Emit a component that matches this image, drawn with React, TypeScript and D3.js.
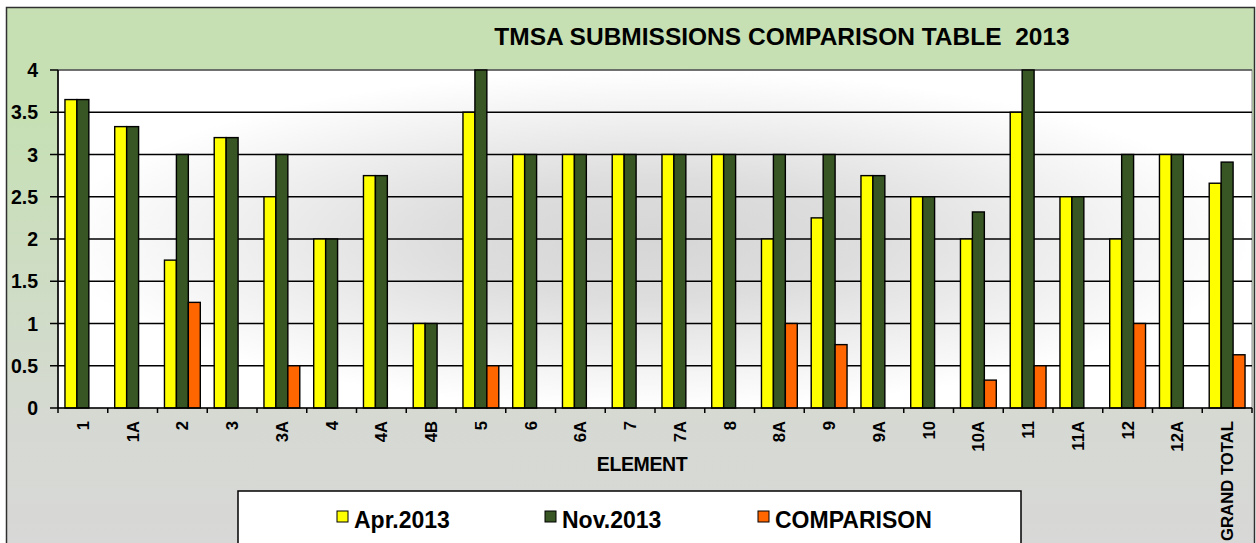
import React from "react"
import * as d3 from "d3"

// TMSA submissions per element
const categories = [
  "1", "1A", "2", "3", "3A", "4", "4A", "4B", "5", "6", "6A", "7", "7A",
  "8", "8A", "9", "9A", "10", "10A", "11", "11A", "12", "12A", "GRAND TOTAL"
]
const apr2013 = [3.65, 3.33, 1.75, 3.2, 2.5, 2, 2.75, 1, 3.5, 3, 3, 3, 3, 3, 2, 2.25, 2.75, 2.5, 2, 3.5, 2.5, 2, 3, 2.66]
const nov2013 = [3.65, 3.33, 3, 3.2, 3, 2, 2.75, 1, 4, 3, 3, 3, 3, 3, 3, 3, 2.75, 2.5, 2.32, 4, 2.5, 3, 3, 2.91]
const comparison = [0, 0, 1.25, 0, 0.5, 0, 0, 0, 0.5, 0, 0, 0, 0, 0, 1, 0.75, 0, 0, 0.33, 0.5, 0, 1, 0, 0.63]
const seriesNames = ["Apr.2013", "Nov.2013", "COMPARISON"]
const seriesColors = ["#FFFF00", "#375623", "#FF6600"]
const yTicks = [0, 0.5, 1, 1.5, 2, 2.5, 3, 3.5, 4]

const W = 1256
const H = 543
const FONT = "'Liberation Sans', Arial, sans-serif"

const plot = { left: 58, right: 1252, top: 70, bottom: 408 }

const App = () => {
  const x = d3.scaleBand<string>()
    .domain(categories)
    .range([plot.left, plot.right])
    .paddingInner(0)
    .paddingOuter(0)

  const bw = x.bandwidth()
  const xs = d3.scaleBand<string>()
    .domain(seriesNames)
    .range([bw * 0.14, bw * 0.86])

  const y = d3.scaleLinear().domain([0, 4]).range([plot.bottom, plot.top])

  const series = [apr2013, nov2013, comparison]

  // legend item positions
  const legendX = [337, 545, 758]

  return (
    <svg width={W} height={H} style={{ position: "absolute", left: 0, top: 0 }} fontFamily={FONT}>
      <defs>
        <linearGradient id="bg" x1="0" y1="0" x2="0" y2="1">
          <stop offset="0" stopColor="#C6E0B4" />
          <stop offset="0.2" stopColor="#C6E0B4" />
          <stop offset="0.75" stopColor="#D6D9D3" />
          <stop offset="1" stopColor="#D8D8D8" />
        </linearGradient>
        <radialGradient id="plotbg" cx="0.5" cy="0.5" r="0.5">
          <stop offset="0" stopColor="#D6D6D6" />
          <stop offset="0.35" stopColor="#DDDDDD" />
          <stop offset="1" stopColor="#FFFFFF" />
        </radialGradient>
      </defs>

      <rect x={0} y={0} width={W} height={H} fill="#ffffff" />
      <rect x={6.5} y={7.5} width={1248} height={560} fill="url(#bg)" stroke="#303030" strokeWidth={1.5} />

      {/* title */}
      <text x={782} y={45} textAnchor="middle" fontSize={24.5} fontWeight="bold" fill="#000" style={{ whiteSpace: "pre" }}>
        {"TMSA SUBMISSIONS COMPARISON TABLE  2013"}
      </text>

      {/* plot area */}
      <rect x={plot.left} y={plot.top} width={plot.right - plot.left} height={plot.bottom - plot.top}
        fill="url(#plotbg)" stroke="#8C8C8C" strokeWidth={1} />

      {/* gridlines */}
      {yTicks.filter(t => t > 0).map(t => (
        <line key={t} x1={plot.left} x2={plot.right} y1={y(t)} y2={y(t)}
          stroke={t === 4 ? "#555" : "#000"} strokeWidth={1.6} />
      ))}

      {/* bars */}
      {categories.map((c, i) => (
        <g key={c} transform={`translate(${x(c)},0)`}>
          {series.map((s, j) => s[i] > 0 ? (
            <rect key={j} x={xs(seriesNames[j])} y={y(s[i])} width={xs.bandwidth()}
              height={y(0) - y(s[i])} fill={seriesColors[j]} stroke="#000" strokeWidth={1.4} />
          ) : null)}
        </g>
      ))}

      {/* axes */}
      <line x1={plot.left} x2={plot.left} y1={plot.top} y2={plot.bottom} stroke="#000" strokeWidth={1.6} />
      <line x1={plot.left} x2={plot.right} y1={plot.bottom} y2={plot.bottom} stroke="#000" strokeWidth={1.6} />

      {yTicks.map(t => (
        <g key={t}>
          <line x1={plot.left - 8} x2={plot.left} y1={y(t)} y2={y(t)} stroke="#000" strokeWidth={1.5} />
          <text x={38} y={y(t)} dy="0.36em" textAnchor="end" fontSize={19.5} fontWeight="bold">{t}</text>
        </g>
      ))}

      {categories.map(c => (
        <line key={"t" + c} x1={x(c) as number} x2={x(c) as number}
          y1={plot.bottom} y2={plot.bottom + 5} stroke="#000" strokeWidth={1.5} />
      ))}
      <line x1={plot.right} x2={plot.right} y1={plot.bottom} y2={plot.bottom + 5} stroke="#000" strokeWidth={1.5} />

      {categories.map(c => {
        const cx = (x(c) as number) + bw / 2
        return (
          <text key={"l" + c} transform={`translate(${cx},421) rotate(-90)`} textAnchor="end"
            dy="0.36em" fontSize={16.7} fontWeight="bold">{c}</text>
        )
      })}

      <text x={642} y={471} textAnchor="middle" fontSize={19.5} fontWeight="bold" letterSpacing={-0.4}>ELEMENT</text>

      {/* legend */}
      <rect x={238} y={491} width={783} height={70} fill="#fff" stroke="#000" strokeWidth={1.5} />
      {seriesNames.map((n, j) => (
        <g key={n}>
          <rect x={legendX[j]} y={511} width={11} height={11} fill={seriesColors[j]} stroke="#000" strokeWidth={1} />
          <text x={legendX[j] + 17} y={527.5} fontSize={23} fontWeight="bold">{n}</text>
        </g>
      ))}
    </svg>
  )
}

export default App
